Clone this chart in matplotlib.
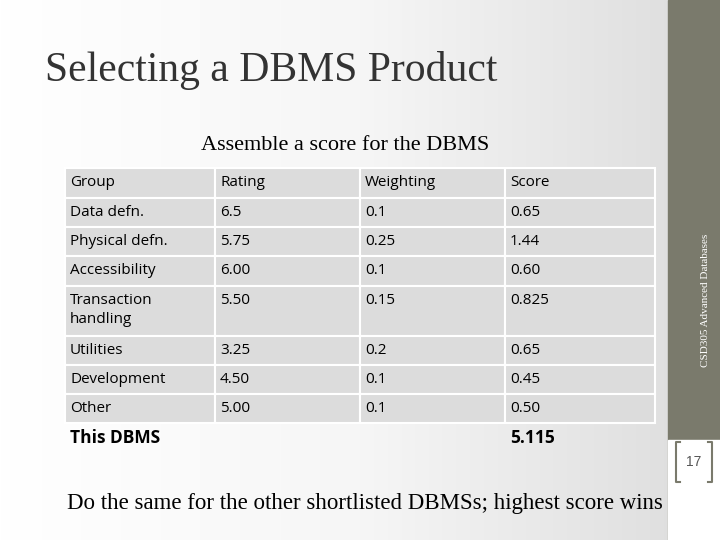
import matplotlib
matplotlib.use("Agg")
import matplotlib.pyplot as plt
import numpy as np
from matplotlib.patches import Rectangle
from matplotlib.colors import LinearSegmentedColormap

headers = ["Group", "Rating", "Weighting", "Score"]
groups = ["Data defn.", "Physical defn.", "Accessibility", "Transaction\nhandling",
          "Utilities", "Development", "Other"]
ratings = ["6.5", "5.75", "6.00", "5.50", "3.25", "4.50", "5.00"]
weightings = ["0.1", "0.25", "0.1", "0.15", "0.2", "0.1", "0.1"]
scores = ["0.65", "1.44", "0.60", "0.825", "0.65", "0.45", "0.50"]
total_label = "This DBMS"
total_score = "5.115"

fig = plt.figure(figsize=(7.2, 5.4), dpi=100)
ax = fig.add_axes([0, 0, 1, 1])
ax.set_xlim(0, 720); ax.set_ylim(540, 0); ax.axis("off")

grad = np.linspace(0, 1, 256).reshape(1, -1)
cm = LinearSegmentedColormap.from_list("g", ["#ffffff", "#f6f6f6", "#dcdcdc"])
ax.imshow(grad, extent=[0, 720, 540, 0], cmap=cm, aspect="auto", zorder=0)
ax.add_patch(Rectangle((668, 0), 52, 540, color="#7a7a6c", zorder=1))
ax.add_patch(Rectangle((668, 440), 52, 100, color="#ffffff", zorder=1))
ax.text(706, 300, "CSD305 Advanced Databases", rotation=90, ha="center", va="center",
        fontsize=8, family="Liberation Serif", color="white", zorder=2)
ax.text(694, 462, "17", ha="center", va="center", fontsize=10, color="#555555",
        family="Liberation Sans", zorder=2)
ax.plot([680, 676, 676, 680], [442, 442, 482, 482], color="#7a7a6c", lw=1.5, zorder=2)
ax.plot([708, 712, 712, 708], [442, 442, 482, 482], color="#7a7a6c", lw=1.5, zorder=2)

ax.text(45, 70, "Selecting a DBMS Product", fontsize=30, family="Liberation Serif",
        color="#333333", va="center", ha="left", zorder=2)
ax.text(345, 145, "Assemble a score for the DBMS", fontsize=16, family="Liberation Serif",
        color="black", va="center", ha="center", zorder=2)
ax.text(67, 503, "Do the same for the other shortlisted DBMSs; highest score wins",
        fontsize=16.5, family="Liberation Serif", color="black", va="center", ha="left", zorder=2)

cols = [65, 215, 360, 505, 655]
heights = [30, 29, 29, 30, 50, 29, 29, 29]
y = 168
rows = [headers] + [[g, r, w, s] for g, r, w, s in zip(groups, ratings, weightings, scores)]
for i, row in enumerate(rows):
    h = heights[i]
    for j in range(4):
        ax.add_patch(Rectangle((cols[j], y), cols[j+1] - cols[j], h, facecolor="#dcdcdc",
                               edgecolor="white", lw=1.5, zorder=2))
        ax.text(cols[j] + 5, y + (7 if h > 30 else h / 2), row[j], fontsize=11,
                family="Open Sans", va="top" if h > 30 else "center", ha="left",
                linespacing=1.4, zorder=3)
    y += h
ax.text(cols[0] + 5, y + 15, total_label, fontsize=12.5, family="Open Sans", weight="bold",
        va="center", zorder=3)
ax.text(cols[3] + 5, y + 15, total_score, fontsize=12.5, family="Open Sans", weight="bold",
        va="center", zorder=3)

fig.savefig("out.png", dpi=100)
